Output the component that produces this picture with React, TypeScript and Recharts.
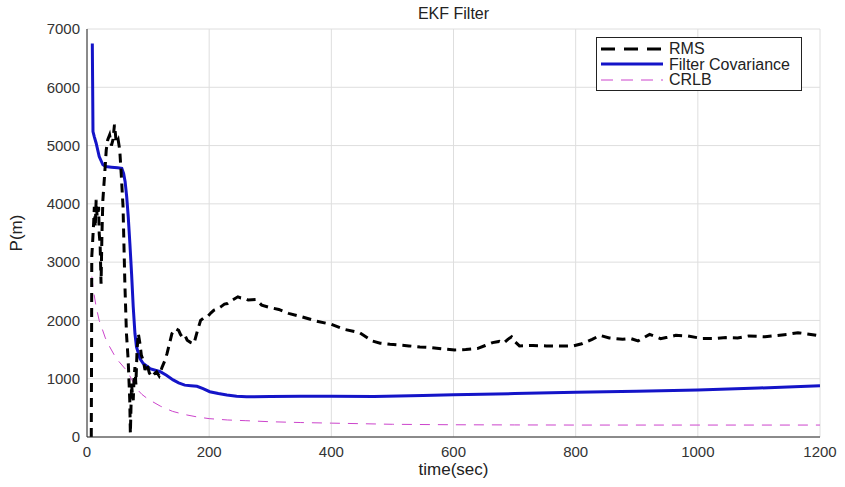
import React from 'react';
import { LineChart, Line, XAxis, YAxis, CartesianGrid, Legend } from 'recharts';

// time (sec), P (m) pairs
const rms: [number, number][] = [
  [7, 0], [7.5, 1500], [7.8, 3090], [9.4, 3380], [11, 3700], [12, 3950], [13.5, 3600], [15, 4070],
  [16.5, 3800], [17.7, 3780], [19, 3950], [20, 3490], [21.5, 3300], [23, 2630], [24.5, 3500], [26, 4070],
  [29, 4520], [31.5, 4925], [34, 5100], [37, 5180], [40, 5000], [42.5, 5100], [45, 5360], [48, 5040],
  [51, 5100], [53.6, 4925], [56, 4520], [59, 3950], [62, 2630], [64.6, 1775], [67.4, 1320], [69, 900],
  [70, 630], [71, 60], [72, 500], [73, 916], [74.5, 700], [75.7, 630], [77, 1000], [78.5, 1200],
  [80, 900], [82, 1500], [84, 1775], [86.7, 1600], [89, 1400], [92, 1320], [95, 1150], [98, 1260],
  [102, 1100], [106, 1030], [110, 1080], [114, 1117], [118, 1050], [123, 1200], [127, 1300], [131, 1430],
  [135, 1600], [139, 1775], [145, 1860], [150, 1830], [153, 1760], [156, 1718], [160, 1750], [164, 1660],
  [170, 1620], [175, 1600], [181, 1830], [186, 2000], [192, 2050], [197, 2060], [203, 2130], [208, 2176],
  [214, 2200], [219, 2233], [225, 2280], [230, 2290], [238, 2350], [247, 2405], [252, 2386], [258, 2380],
  [264, 2350], [277, 2358], [286, 2262], [300, 2220], [314, 2188], [330, 2120], [352, 2062], [375, 1990],
  [400, 1932], [421, 1847], [446, 1790], [467, 1648], [480, 1610], [496, 1590], [527, 1563], [545, 1545],
  [564, 1534], [585, 1510], [602, 1494], [620, 1500], [639, 1517], [652, 1570], [664, 1620], [675, 1640],
  [682, 1610], [689, 1676], [695, 1720], [700, 1640], [708, 1563], [730, 1570], [752, 1563], [775, 1560],
  [796, 1563], [810, 1600], [827, 1676], [840, 1744], [855, 1700], [877, 1676], [890, 1690], [902, 1648],
  [921, 1761], [939, 1688], [950, 1710], [964, 1744], [983, 1733], [1008, 1688], [1030, 1690], [1046, 1705],
  [1065, 1700], [1083, 1733], [1110, 1720], [1146, 1761], [1164, 1790], [1185, 1760], [1200, 1733],
];

const covariance: [number, number][] = [
  [8.7, 6750], [9.2, 6100], [9.8, 5240], [12, 5150], [15, 5040], [20, 4810], [26, 4670], [31, 4640],
  [40, 4630], [50, 4620], [57, 4610], [60, 4520], [62.4, 4380], [65, 4120], [67.5, 3780], [70.2, 3320],
  [73, 2800], [75.7, 2230], [78.5, 1775], [81, 1546], [86.7, 1346], [92, 1260], [103, 1174], [120, 1120],
  [130, 1060], [141, 980], [150, 930], [160, 890], [170, 880], [180, 870], [190, 830], [201, 777],
  [215, 745], [229, 720], [245, 700], [261, 690], [300, 695], [350, 700], [400, 700], [470, 693],
  [550, 710], [600, 727], [700, 745], [800, 767], [900, 787], [1000, 807], [1100, 840], [1200, 880],
];

const crlb: [number, number][] = [
  [8, 2750], [10, 2550], [12, 2420], [15, 2230], [20, 2000], [25, 1850], [30, 1700], [37, 1550],
  [45, 1400], [51, 1310], [60, 1200], [65, 1140], [70, 1050], [75, 950], [81, 830], [90, 730],
  [100, 650], [120, 530], [140, 440], [160, 385], [180, 345], [200, 315], [230, 292], [260, 280],
  [300, 262], [350, 248], [400, 238], [450, 228], [500, 218], [600, 210], [700, 207], [800, 205],
  [1000, 205], [1200, 205],
];

const xTicks = [0, 200, 400, 600, 800, 1000, 1200];
const yTicks = [0, 1000, 2000, 3000, 4000, 5000, 6000, 7000];

const toRows = (pts: [number, number][]) => pts.map(([t, p]) => ({ t, p }));

const FONT = '"Liberation Sans", Arial, sans-serif';
const AXIS = '#262626';

const legendItems = [
  { name: 'RMS', color: '#000', width: 3, dash: '14 9' },
  { name: 'Filter Covariance', color: '#1414c8', width: 3, dash: undefined },
  { name: 'CRLB', color: '#cc44cc', width: 1, dash: '12 8' },
];

const FigureLegend = () => (
  <div
    style={{
      border: '1px solid #222',
      background: '#fff',
      padding: '3px 0 2px 0',
      fontFamily: FONT,
      fontSize: 16,
      color: '#222',
      textAlign: 'left',
    }}
  >
    {legendItems.map((it) => (
      <div key={it.name} style={{ display: 'flex', alignItems: 'center', height: 15.5 }}>
        <svg width={72} height={12}>
          <line x1={4} x2={66} y1={6} y2={6} stroke={it.color} strokeWidth={it.width} strokeDasharray={it.dash} />
        </svg>
        <span style={{ lineHeight: '15px', whiteSpace: 'nowrap' }}>{it.name}</span>
      </div>
    ))}
  </div>
);

export default function App() {
  const tickStyle = { fill: '#333', fontSize: 15, fontFamily: FONT };
  return (
    <div style={{ position: 'absolute', left: 0, top: 0, width: 845, height: 487, background: '#fff' }}>
      <div
        style={{
          position: 'absolute', left: 0, width: 907, top: 5, textAlign: 'center',
          fontFamily: FONT, fontSize: 16, color: '#222',
        }}
      >
        EKF Filter
      </div>
      <div
        style={{
          position: 'absolute', left: 17, top: 233, transform: 'translate(-50%, -50%) rotate(-90deg)',
          fontFamily: FONT, fontSize: 17, color: '#222', whiteSpace: 'nowrap',
        }}
      >
        P(m)
      </div>
      <LineChart width={845} height={487} margin={{ top: 29, right: 25, bottom: 0, left: 0 }}>
        <CartesianGrid stroke="#dedede" strokeWidth={1} xAxisId="x" yAxisId="y" />
        <XAxis
          xAxisId="xin" orientation="bottom" mirror type="number" domain={[0, 1200]} ticks={xTicks}
          height={0} tick={false} tickSize={5} axisLine={false} tickLine={{ stroke: AXIS }}
        />
        <XAxis
          xAxisId="x" dataKey="t" type="number" domain={[0, 1200]} ticks={xTicks} height={50}
          tickSize={0} tickMargin={9} tick={tickStyle} axisLine={{ stroke: AXIS }}
          label={{ value: 'time(sec)', position: 'insideBottom', offset: 12, fill: '#222', fontSize: 17, fontFamily: FONT }}
        />
        <XAxis
          xAxisId="top" orientation="top" mirror type="number" domain={[0, 1200]} ticks={xTicks}
          height={0} tick={false} tickSize={5} axisLine={{ stroke: AXIS }} tickLine={{ stroke: AXIS }}
        />
        <YAxis
          yAxisId="yin" orientation="left" mirror type="number" domain={[0, 7000]} ticks={yTicks}
          width={0} tick={false} tickSize={5} axisLine={false} tickLine={{ stroke: AXIS }}
        />
        <YAxis
          yAxisId="y" type="number" domain={[0, 7000]} ticks={yTicks} width={87}
          tickSize={0} tickMargin={7} tick={tickStyle} axisLine={{ stroke: AXIS }}
        />
        <YAxis
          yAxisId="right" orientation="right" mirror type="number" domain={[0, 7000]} ticks={yTicks}
          width={0} tick={false} tickSize={5} axisLine={{ stroke: AXIS }} tickLine={{ stroke: AXIS }}
        />
        <Line
          xAxisId="x" yAxisId="y" data={toRows(crlb)} dataKey="p" name="CRLB" type="linear"
          stroke="#cc44cc" strokeWidth={1} strokeDasharray="10 8" dot={false} isAnimationActive={false}
        />
        <Line
          xAxisId="x" yAxisId="y" data={toRows(covariance)} dataKey="p" name="Filter Covariance" type="linear"
          stroke="#1414c8" strokeWidth={3} dot={false} isAnimationActive={false}
        />
        <Line
          xAxisId="x" yAxisId="y" data={toRows(rms)} dataKey="p" name="RMS" type="linear"
          stroke="#000" strokeWidth={3} strokeDasharray="9 6" dot={false} isAnimationActive={false}
        />
        <Legend
          layout="vertical"
          align="center"
          verticalAlign="middle"
          content={<FigureLegend />}
          wrapperStyle={{ left: 596, top: 37, width: 206 }}
        />
      </LineChart>
    </div>
  );
}
